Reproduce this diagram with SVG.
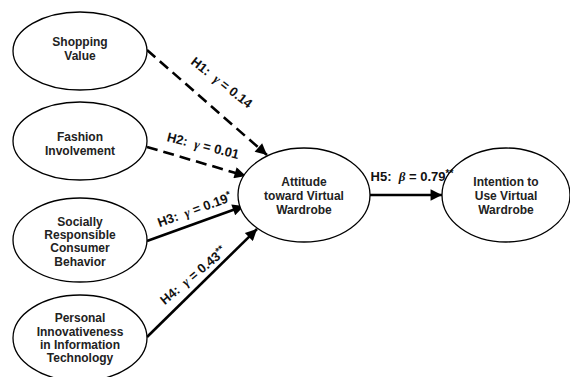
<svg xmlns="http://www.w3.org/2000/svg" width="570" height="377" viewBox="0 0 570 377">
<defs>
<marker id="ah" viewBox="0 0 10 10" refX="10" refY="5" markerWidth="5" markerHeight="4.4" orient="auto" markerUnits="strokeWidth">
<path d="M0,0 L10,5 L0,10 z" fill="#000"/>
</marker>
<style>
.n ellipse{fill:#fff;stroke:#000;stroke-width:1.3}
.n text{font-family:"Liberation Sans",Arial,sans-serif;font-weight:bold;font-size:12px;fill:#222;text-anchor:middle}
.c line{stroke:#000;stroke-width:2.6}
.d{stroke-dasharray:11 6}
.l{font-family:"Liberation Sans",Arial,sans-serif;font-weight:bold;font-size:13px;fill:#111;text-anchor:middle;white-space:pre}
.g{font-style:italic;font-family:"Liberation Serif",serif}
</style>
</defs>
<rect width="570" height="377" fill="#fff"/>
<g class="c" id="connectors">
<line class="d" x1="147" y1="50" x2="267" y2="155" marker-end="url(#ah)"/>
<line class="d" x1="147" y1="147" x2="246" y2="176" marker-end="url(#ah)"/>
<line x1="147" y1="241" x2="244" y2="206" marker-end="url(#ah)"/>
<line x1="147" y1="337" x2="257" y2="229" marker-end="url(#ah)"/>
<line x1="370" y1="195" x2="442" y2="195" marker-end="url(#ah)"/>
</g>
<g id="labels" xml:space="preserve">
<text class="l" transform="translate(219,86) rotate(38)">H1:  <tspan class="g">γ</tspan> = 0.14</text>
<text class="l" transform="translate(202,150) rotate(14)">H2:  <tspan class="g">γ</tspan> = 0.01</text>
<text class="l" transform="translate(196,214) rotate(-20)">H3:  <tspan class="g">γ</tspan> = 0.19<tspan dy="-4" font-size="10">*</tspan></text>
<text class="l" transform="translate(196,279) rotate(-40)">H4:  <tspan class="g">γ</tspan> = 0.43<tspan dy="-4" font-size="10">**</tspan></text>
</g>
<g class="n" id="shopping">
<ellipse cx="80" cy="51" rx="67" ry="39"/>
<text x="80" y="46">Shopping</text>
<text x="80" y="60">Value</text>
</g>
<g class="n" id="fashion">
<ellipse cx="80" cy="141" rx="67" ry="39"/>
<text x="80" y="141">Fashion</text>
<text x="80" y="155">Involvement</text>
</g>
<g class="n" id="socially">
<ellipse cx="80" cy="240" rx="67" ry="42"/>
<text x="80" y="226">Socially</text>
<text x="80" y="239">Responsible</text>
<text x="80" y="252">Consumer</text>
<text x="80" y="266">Behavior</text>
</g>
<g class="n" id="personal">
<ellipse cx="80" cy="338" rx="67" ry="43"/>
<text x="80" y="322">Personal</text>
<text x="80" y="336">Innovativeness</text>
<text x="80" y="349">in Information</text>
<text x="80" y="362">Technology</text>
</g>
<g class="n" id="attitude">
<ellipse cx="304" cy="195" rx="66" ry="47"/>
<text x="304" y="186">Attitude</text>
<text x="304" y="200">toward Virtual</text>
<text x="304" y="214">Wardrobe</text>
</g>
<g class="n" id="intention">
<ellipse cx="506" cy="195" rx="64" ry="47"/>
<text x="506" y="186">Intention to</text>
<text x="506" y="200">Use Virtual</text>
<text x="506" y="214">Wardrobe</text>
</g>
<text class="l" x="412" y="181" xml:space="preserve">H5:  <tspan class="g">β</tspan> = 0.79<tspan dy="-4" font-size="10">**</tspan></text>
</svg>
